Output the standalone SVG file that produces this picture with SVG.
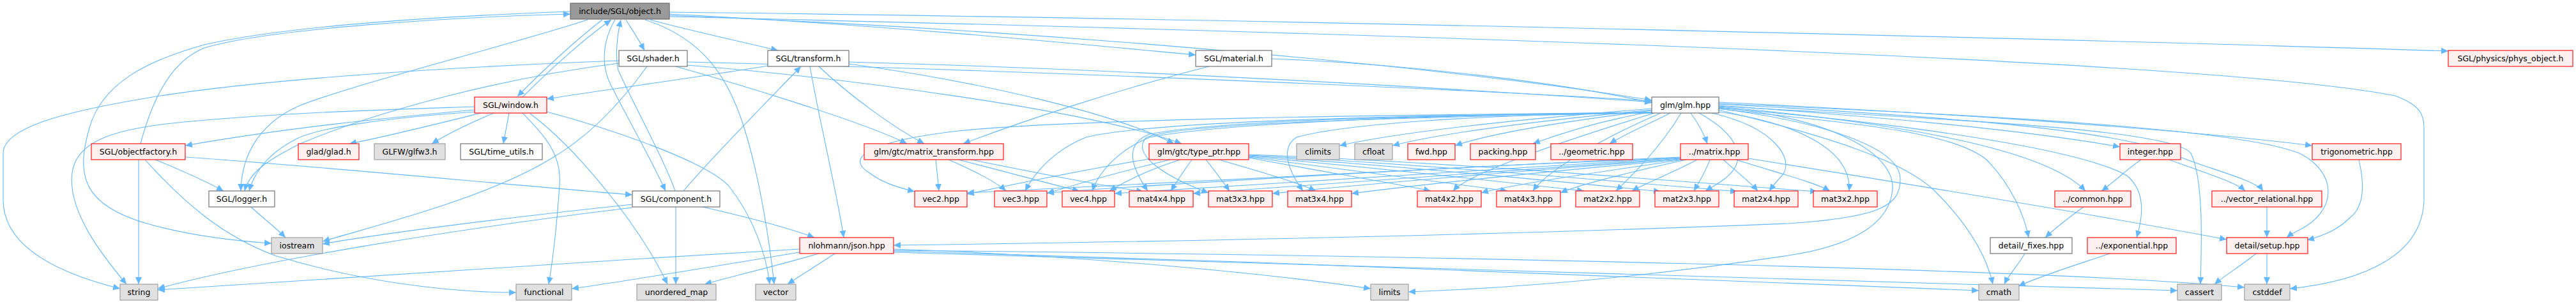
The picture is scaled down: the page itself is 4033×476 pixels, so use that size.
<svg xmlns="http://www.w3.org/2000/svg" width="4033" height="476" viewBox="0 0 4033 476">
<style>
.e{fill:none;stroke:#63b8ff;stroke-width:1.1;marker-end:url(#ah)}
.n rect{stroke-width:1.1}
.wh rect{fill:#ffffff;stroke:#666666}
.rd rect{fill:#fff0f0;stroke:#ff0000}
.gy rect{fill:#e0e0e0;stroke:#999999}
.dk rect{fill:#999999;stroke:#666666}
text{font-family:"DejaVu Sans","Liberation Sans",sans-serif;font-size:12.5px;fill:#000000;text-anchor:middle}
</style>
<defs>
<marker id="ah" markerUnits="userSpaceOnUse" markerWidth="11" markerHeight="10" refX="11" refY="5" orient="auto">
<path d="M0,0 L11,5 L0,10 z" fill="#63b8ff"/>
</marker>
</defs>
<rect width="4033" height="476" fill="#ffffff"/>
<g id="edges">
<path class="e" d="M943,31 C905,60 850,110 810,151"/>
<path class="e" d="M818,152 C860,110 915,60 957,31"/>
<path class="e" d="M963,31 C940,70 942,110 960,140 C985,190 1020,250 1042,299"/>
<path class="e" d="M1057,299 C1040,250 990,160 968,110 C963,90 966,55 972,31"/>
<path class="e" d="M980,31 C990,47 1000,62 1009,79"/>
<path class="e" d="M1018,31 C1080,48 1160,65 1218,79"/>
<path class="e" d="M1010,31 C1100,60 1140,120 1165,200 C1190,280 1205,380 1212,445"/>
<path class="e" d="M920,31 C800,70 560,130 470,165 C400,195 378,250 377,299"/>
<path class="e" d="M220,225 C240,150 270,95 320,75 C420,45 700,27 893,22"/>
<path class="e" d="M893,18 C700,25 450,40 320,70 C230,95 160,130 140,200 C120,270 125,320 230,350 C300,370 380,378 425,381"/>
<path class="e" d="M1048,22 C1400,40 1700,70 1872,86"/>
<path class="e" d="M1048,19 C2000,30 3200,60 3833,80"/>
<path class="e" d="M1048,26 C2500,60 3500,100 3750,150 C3790,165 3795,180 3795,200 L3795,310 C3795,400 3700,440 3585,452"/>
<path class="e" d="M1048,24 C1700,50 2300,110 2586,157"/>
<path class="e" d="M969,95 C700,105 400,125 233,153 C100,175 5,200 5,240 L5,313 C5,390 100,430 188,452"/>
<path class="e" d="M969,99 C800,120 600,170 470,225 C420,250 390,270 383,299"/>
<path class="e" d="M1013,104 C980,150 930,210 860,250 C760,310 600,350 505,378"/>
<path class="e" d="M1076,97 C1600,110 2300,140 2586,158"/>
<path class="e" d="M1076,102 C1300,120 1700,170 1850,225"/>
<path class="e" d="M1058,104 C1150,130 1350,190 1420,225"/>
<path class="e" d="M1202,103 C1100,120 950,140 856,155"/>
<path class="e" d="M1329,97 C1800,110 2300,140 2586,160"/>
<path class="e" d="M1329,100 C1550,130 1750,180 1838,225"/>
<path class="e" d="M1282,104 C1330,150 1400,200 1447,225"/>
<path class="e" d="M1268,104 C1285,200 1310,300 1321,372"/>
<path class="e" d="M1070,299 C1120,240 1200,160 1254,104"/>
<path class="e" d="M1991,92 C2200,100 2450,130 2586,161"/>
<path class="e" d="M1893,104 C1750,140 1600,190 1508,225"/>
<path class="e" d="M743,167 C600,172 450,176 300,190 C180,200 120,220 113,270 C105,330 160,400 198,445"/>
<path class="e" d="M743,172 C600,185 450,200 290,228"/>
<path class="e" d="M743,175 C600,185 500,200 465,217 C420,240 398,270 390,299"/>
<path class="e" d="M753,177 C680,195 600,215 547,225"/>
<path class="e" d="M773,177 C730,195 700,210 676,225"/>
<path class="e" d="M797,177 L788,225"/>
<path class="e" d="M818,177 C850,210 880,240 876,290 C872,350 865,410 859,445"/>
<path class="e" d="M830,178 C900,230 1000,350 1045,445"/>
<path class="e" d="M856,175 C950,200 1100,250 1140,290 C1180,340 1200,400 1205,445"/>
<path class="e" d="M990,320 C800,340 600,365 505,382"/>
<path class="e" d="M990,325 C700,360 400,410 247,452"/>
<path class="e" d="M1058,324 L1058,445"/>
<path class="e" d="M1100,324 C1170,340 1230,355 1275,372"/>
<path class="e" d="M290,246 C500,260 800,290 990,305"/>
<path class="e" d="M243,250 C280,265 320,283 350,299"/>
<path class="e" d="M227,250 C290,320 350,370 430,400 C560,440 700,458 808,458"/>
<path class="e" d="M217,250 L217,445"/>
<path class="e" d="M393,324 C410,340 430,355 447,372"/>
<path class="e" d="M1252,390 C900,410 500,440 247,454"/>
<path class="e" d="M1252,395 C1100,420 950,445 895,452"/>
<path class="e" d="M1282,397 C1220,415 1150,432 1103,445"/>
<path class="e" d="M1307,397 C1280,415 1255,430 1233,445"/>
<path class="e" d="M1399,390 C1700,400 2000,430 2146,452"/>
<path class="e" d="M1399,393 C2000,410 2800,440 3098,455"/>
<path class="e" d="M1399,395 C2200,420 3000,445 3409,455"/>
<path class="e" d="M1399,392 C2200,400 3200,420 3514,450"/>
<path class="e" d="M2690,170 C2850,190 2975,230 2975,280 C2975,320 2950,340 2800,350 C2300,370 1700,380 1399,384"/>
<path class="e" d="M2690,168 C2870,185 2965,240 2963,295 C2960,350 2900,385 2800,400 C2600,430 2400,450 2205,457"/>
<path class="e" d="M2586,170 C2400,185 2200,205 2097,228"/>
<path class="e" d="M2586,172 C2400,190 2250,210 2180,228"/>
<path class="e" d="M2586,173 C2450,190 2330,210 2278,228"/>
<path class="e" d="M2586,175 C2500,190 2440,210 2400,225"/>
<path class="e" d="M2615,177 C2580,195 2540,212 2520,225"/>
<path class="e" d="M2647,177 C2660,195 2668,210 2673,225"/>
<path class="e" d="M2690,165 C2900,180 3150,200 3319,230"/>
<path class="e" d="M2690,160 C3000,175 3400,200 3620,228"/>
<path class="e" d="M2690,167 C2950,190 3200,230 3265,299"/>
<path class="e" d="M2690,163 C3000,180 3300,200 3400,240 C3440,260 3530,280 3543,299"/>
<path class="e" d="M2690,169 C2950,190 3250,230 3330,275 C3360,300 3355,340 3345,372"/>
<path class="e" d="M2690,166 C3000,185 3400,200 3430,240 C3450,280 3447,380 3445,445"/>
<path class="e" d="M2690,170 C2850,190 3050,200 3110,250 C3150,290 3170,340 3176,372"/>
<path class="e" d="M2690,172 C2850,210 2980,250 3030,300 C3080,350 3110,400 3120,445"/>
<path class="e" d="M2690,162 C3100,180 3500,200 3600,240 C3660,270 3660,330 3600,360 C3590,365 3585,368 3580,372"/>
<path class="e" d="M2586,176 C2200,180 1700,185 1500,205 C1370,220 1320,245 1360,270 C1380,285 1400,292 1432,300"/>
<path class="e" d="M2586,176 C2200,180 1800,190 1700,215 C1650,235 1620,270 1605,299"/>
<path class="e" d="M2586,176 C2200,180 1900,195 1800,215 C1750,235 1720,270 1710,299"/>
<path class="e" d="M2586,177 C2200,180 1900,190 1800,210 C1760,225 1770,260 1797,299"/>
<path class="e" d="M2586,177 C2100,185 1850,195 1795,215 C1770,240 1820,275 1892,302"/>
<path class="e" d="M2586,176 C2300,180 2100,195 2030,215 C2005,230 2015,265 2040,299"/>
<path class="e" d="M2590,177 C2450,220 2300,270 2275,299"/>
<path class="e" d="M2600,177 C2500,220 2420,270 2400,299"/>
<path class="e" d="M2632,177 C2600,230 2560,270 2530,299"/>
<path class="e" d="M2660,177 C2720,210 2740,250 2700,280 C2690,288 2680,293 2670,299"/>
<path class="e" d="M2680,177 C2780,200 2810,250 2790,275 C2780,285 2775,292 2770,299"/>
<path class="e" d="M2690,175 C2800,190 2900,230 2895,299"/>
<path class="e" d="M2737,248 C3000,290 3300,340 3486,375"/>
<path class="e" d="M2631,247 C2200,265 1700,290 1514,302"/>
<path class="e" d="M2631,246 C2200,265 1800,290 1639,302"/>
<path class="e" d="M2631,247 C2250,270 1900,292 1745,303"/>
<path class="e" d="M2631,248 C2300,270 2000,292 1868,303"/>
<path class="e" d="M2631,249 C2350,270 2100,292 1992,303"/>
<path class="e" d="M2631,250 C2400,270 2200,292 2116,303"/>
<path class="e" d="M2635,250 C2500,270 2360,290 2319,302"/>
<path class="e" d="M2640,250 C2550,270 2470,290 2443,302"/>
<path class="e" d="M2657,250 C2620,270 2580,285 2555,299"/>
<path class="e" d="M2677,250 C2670,270 2660,285 2652,299"/>
<path class="e" d="M2698,250 C2720,270 2740,285 2752,299"/>
<path class="e" d="M2718,250 C2780,270 2840,285 2865,299"/>
<path class="e" d="M1799,249 C1700,265 1580,290 1514,304"/>
<path class="e" d="M1832,250 C1750,270 1680,290 1639,303"/>
<path class="e" d="M1848,250 C1800,265 1760,285 1737,299"/>
<path class="e" d="M1866,250 C1855,265 1842,285 1833,299"/>
<path class="e" d="M1888,250 C1900,265 1915,285 1925,299"/>
<path class="e" d="M1908,250 C1960,265 2030,285 2060,299"/>
<path class="e" d="M1955,247 C2050,265 2200,290 2240,299"/>
<path class="e" d="M1955,246 C2100,265 2300,290 2360,299"/>
<path class="e" d="M1955,245 C2150,262 2400,290 2480,299"/>
<path class="e" d="M1955,244 C2200,260 2500,290 2600,300"/>
<path class="e" d="M1955,243 C2250,258 2600,290 2720,300"/>
<path class="e" d="M1955,242 C2300,255 2700,290 2845,300"/>
<path class="e" d="M1465,250 L1470,299"/>
<path class="e" d="M1485,250 C1520,265 1560,285 1575,299"/>
<path class="e" d="M1500,250 C1580,270 1650,290 1690,299"/>
<path class="e" d="M1520,250 C1620,270 1720,290 1790,300"/>
<path class="e" d="M3352,250 C3330,265 3310,285 3290,299"/>
<path class="e" d="M3396,250 C3450,270 3500,285 3515,299"/>
<path class="e" d="M3262,324 C3240,340 3220,355 3202,372"/>
<path class="e" d="M3549,324 L3549,372"/>
<path class="e" d="M3693,250 C3700,280 3705,320 3680,340 C3660,360 3640,368 3612,376"/>
<path class="e" d="M3303,397 C3250,415 3200,430 3160,448"/>
<path class="e" d="M3170,397 C3160,415 3145,430 3138,445"/>
<path class="e" d="M3532,397 C3510,415 3485,430 3467,445"/>
<path class="e" d="M3549,397 L3549,445"/>
</g>
<g id="n_object" class="n dk"><rect x="893" y="5" width="155" height="25"/><text x="970.5" y="22">include/SGL/object.h</text></g>
<g id="n_shader" class="n wh"><rect x="969" y="79" width="107" height="25"/><text x="1022.5" y="96">SGL/shader.h</text></g>
<g id="n_transform" class="n wh"><rect x="1202" y="79" width="127" height="25"/><text x="1265.5" y="96">SGL/transform.h</text></g>
<g id="n_material" class="n wh"><rect x="1872" y="79" width="119" height="25"/><text x="1931.5" y="96">SGL/material.h</text></g>
<g id="n_phys" class="n rd"><rect x="3833" y="79" width="195" height="25"/><text x="3930.5" y="96">SGL/physics/phys_object.h</text></g>
<g id="n_window" class="n rd"><rect x="743" y="152" width="113" height="25"/><text x="799.5" y="169">SGL/window.h</text></g>
<g id="n_glm" class="n wh"><rect x="2586" y="152" width="105" height="25"/><text x="2638.5" y="169">glm/glm.hpp</text></g>
<g id="n_objectfactory" class="n rd"><rect x="143" y="225" width="147" height="25"/><text x="216.5" y="242">SGL/objectfactory.h</text></g>
<g id="n_glad" class="n rd"><rect x="467" y="225" width="95" height="25"/><text x="514.5" y="242">glad/glad.h</text></g>
<g id="n_glfw" class="n gy"><rect x="586" y="225" width="111" height="25"/><text x="641.5" y="242">GLFW/glfw3.h</text></g>
<g id="n_time_utils" class="n wh"><rect x="721" y="225" width="128" height="25"/><text x="785" y="242">SGL/time_utils.h</text></g>
<g id="n_matrix_transform" class="n rd"><rect x="1353" y="225" width="218" height="25"/><text x="1462" y="242">glm/gtc/matrix_transform.hpp</text></g>
<g id="n_type_ptr" class="n rd"><rect x="1799" y="225" width="156" height="25"/><text x="1877" y="242">glm/gtc/type_ptr.hpp</text></g>
<g id="n_climits" class="n gy"><rect x="2030" y="225" width="67" height="25"/><text x="2063.5" y="242">climits</text></g>
<g id="n_cfloat" class="n gy"><rect x="2121" y="225" width="59" height="25"/><text x="2150.5" y="242">cfloat</text></g>
<g id="n_fwd" class="n rd"><rect x="2204" y="225" width="74" height="25"/><text x="2241" y="242">fwd.hpp</text></g>
<g id="n_packing" class="n rd"><rect x="2302" y="225" width="102" height="25"/><text x="2353" y="242">packing.hpp</text></g>
<g id="n_geometric" class="n rd"><rect x="2428" y="225" width="128" height="25"/><text x="2492" y="242">../geometric.hpp</text></g>
<g id="n_matrix" class="n rd"><rect x="2631" y="225" width="106" height="25"/><text x="2684" y="242">../matrix.hpp</text></g>
<g id="n_integer" class="n rd"><rect x="3319" y="225" width="95" height="25"/><text x="3366.5" y="242">integer.hpp</text></g>
<g id="n_trigonometric" class="n rd"><rect x="3620" y="225" width="139" height="25"/><text x="3689.5" y="242">trigonometric.hpp</text></g>
<g id="n_logger" class="n wh"><rect x="327" y="299" width="103" height="25"/><text x="378.5" y="316">SGL/logger.h</text></g>
<g id="n_component" class="n wh"><rect x="990" y="299" width="137" height="25"/><text x="1058.5" y="316">SGL/component.h</text></g>
<g id="n_vec2" class="n rd"><rect x="1432" y="299" width="82" height="25"/><text x="1473" y="316">vec2.hpp</text></g>
<g id="n_vec3" class="n rd"><rect x="1557" y="299" width="82" height="25"/><text x="1598" y="316">vec3.hpp</text></g>
<g id="n_vec4" class="n rd"><rect x="1663" y="299" width="82" height="25"/><text x="1704" y="316">vec4.hpp</text></g>
<g id="n_mat4x4" class="n rd"><rect x="1768" y="299" width="100" height="25"/><text x="1818" y="316">mat4x4.hpp</text></g>
<g id="n_mat3x3" class="n rd"><rect x="1892" y="299" width="100" height="25"/><text x="1942" y="316">mat3x3.hpp</text></g>
<g id="n_mat3x4" class="n rd"><rect x="2016" y="299" width="100" height="25"/><text x="2066" y="316">mat3x4.hpp</text></g>
<g id="n_mat4x2" class="n rd"><rect x="2219" y="299" width="100" height="25"/><text x="2269" y="316">mat4x2.hpp</text></g>
<g id="n_mat4x3" class="n rd"><rect x="2343" y="299" width="100" height="25"/><text x="2393" y="316">mat4x3.hpp</text></g>
<g id="n_mat2x2" class="n rd"><rect x="2467" y="299" width="100" height="25"/><text x="2517" y="316">mat2x2.hpp</text></g>
<g id="n_mat2x3" class="n rd"><rect x="2591" y="299" width="100" height="25"/><text x="2641" y="316">mat2x3.hpp</text></g>
<g id="n_mat2x4" class="n rd"><rect x="2715" y="299" width="100" height="25"/><text x="2765" y="316">mat2x4.hpp</text></g>
<g id="n_mat3x2" class="n rd"><rect x="2839" y="299" width="100" height="25"/><text x="2889" y="316">mat3x2.hpp</text></g>
<g id="n_common" class="n rd"><rect x="3217" y="299" width="119" height="25"/><text x="3276.5" y="316">../common.hpp</text></g>
<g id="n_vector_relational" class="n rd"><rect x="3463" y="299" width="172" height="25"/><text x="3549" y="316">../vector_relational.hpp</text></g>
<g id="n_iostream" class="n gy"><rect x="425" y="372" width="80" height="25"/><text x="465" y="389">iostream</text></g>
<g id="n_json" class="n rd"><rect x="1252" y="372" width="147" height="25"/><text x="1325.5" y="389">nlohmann/json.hpp</text></g>
<g id="n_fixes" class="n wh"><rect x="3116" y="372" width="128" height="25"/><text x="3180" y="389">detail/_fixes.hpp</text></g>
<g id="n_exponential" class="n rd"><rect x="3268" y="372" width="139" height="25"/><text x="3337.5" y="389">../exponential.hpp</text></g>
<g id="n_setup" class="n rd"><rect x="3486" y="372" width="127" height="25"/><text x="3549.5" y="389">detail/setup.hpp</text></g>
<g id="n_string" class="n gy"><rect x="188" y="445" width="59" height="25"/><text x="217.5" y="462">string</text></g>
<g id="n_functional" class="n gy"><rect x="808" y="445" width="87" height="25"/><text x="851.5" y="462">functional</text></g>
<g id="n_unordered_map" class="n gy"><rect x="997" y="445" width="124" height="25"/><text x="1059" y="462">unordered_map</text></g>
<g id="n_vector" class="n gy"><rect x="1183" y="445" width="63" height="25"/><text x="1214.5" y="462">vector</text></g>
<g id="n_limits" class="n gy"><rect x="2146" y="445" width="59" height="25"/><text x="2175.5" y="462">limits</text></g>
<g id="n_cmath" class="n gy"><rect x="3098" y="445" width="63" height="25"/><text x="3129.5" y="462">cmath</text></g>
<g id="n_cassert" class="n gy"><rect x="3409" y="445" width="69" height="25"/><text x="3443.5" y="462">cassert</text></g>
<g id="n_cstddef" class="n gy"><rect x="3514" y="445" width="71" height="25"/><text x="3549.5" y="462">cstddef</text></g>
</svg>
